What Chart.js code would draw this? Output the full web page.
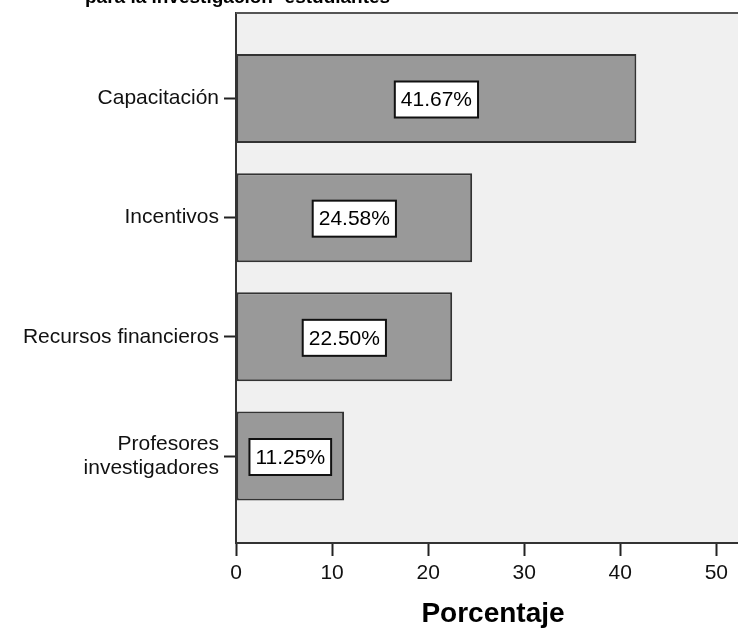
<!DOCTYPE html>
<html>
<head>
<meta charset="utf-8">
<script src="https://cdn.jsdelivr.net/npm/chart.js@4/dist/chart.umd.min.js"></script>
<style>
  html, body { margin: 0; padding: 0; background: #fff; overflow: hidden; }
  #wrap { position: relative; width: 750px; height: 628px; }
  #title {
    position: absolute; left: 85px; top: -14px;
    font: bold 19px "Liberation Sans", Arial, sans-serif; color: #000;
    white-space: nowrap;
  }
</style>
</head>
<body>
<div id="wrap">
  <canvas id="chart"></canvas>
  <div id="title">para la investigación- estudiantes</div>
</div>
<script>
// data
const categories = ["Capacitación", "Incentivos", "Recursos financieros", "Profesores\ninvestigadores"];
const positions = [0, 1, 2, 3];
const percents = [41.67, 24.58, 22.50, 11.25];
const xTicks = [0, 10, 20, 30, 40, 50];

const font = "'Liberation Sans', Arial, sans-serif";

// grey plot background + top frame line
const frame = {
  id: "frame",
  beforeDraw(chart) {
    const { ctx, chartArea: a } = chart;
    ctx.save();
    ctx.fillStyle = "#f0f0f0";
    ctx.fillRect(a.left, a.top, a.right - a.left, a.bottom - a.top);
    ctx.restore();
  },
  afterDraw(chart) {
    const { ctx, chartArea: a } = chart;
    ctx.save();
    ctx.strokeStyle = "#555";
    ctx.lineWidth = 2;
    ctx.beginPath();
    ctx.moveTo(a.left, a.top);
    ctx.lineTo(a.right, a.top);
    ctx.stroke();
    ctx.restore();
  },
};

// boxed value labels centred on each bar
const valueBoxes = {
  id: "valueBoxes",
  afterDatasetsDraw(chart) {
    const { ctx } = chart;
    const meta = chart.getDatasetMeta(0);
    ctx.save();
    ctx.font = "21px " + font;
    ctx.textAlign = "center";
    ctx.textBaseline = "middle";
    meta.data.forEach((bar, i) => {
      const txt = percents[i].toFixed(2) + "%";
      const w = ctx.measureText(txt).width + 12;
      const h = 36;
      const cx = (bar.base + bar.x) / 2;
      const cy = bar.y + 1;
      ctx.fillStyle = "#fff";
      ctx.fillRect(cx - w / 2, cy - h / 2, w, h);
      ctx.strokeStyle = "#111";
      ctx.lineWidth = 2;
      ctx.strokeRect(cx - w / 2, cy - h / 2, w, h);
      ctx.fillStyle = "#000";
      ctx.fillText(txt, cx, cy + 1);
    });
    ctx.restore();
  },
};

new Chart(document.getElementById("chart"), {
  type: "bar",
  data: {
    datasets: [
      {
        data: percents.map((v, i) => ({ x: v, y: positions[i] })),
        backgroundColor: "#999999",
        borderColor: "#333333",
        borderWidth: 2,
        borderSkipped: false,
        barPercentage: 0.747,
        categoryPercentage: 1,
      },
    ],
  },
  options: {
    indexAxis: "y",
    responsive: true,
    maintainAspectRatio: false,
    animation: false,
    layout: { padding: { top: 13, left: 0, right: 0, bottom: 0 } },
    plugins: { legend: { display: false }, tooltip: { enabled: false } },
    scales: {
      x: {
        type: "linear",
        min: 0,
        max: 53.5,
        afterBuildTicks: (s) => { s.ticks = xTicks.map((v) => ({ value: v })); },
        afterFit: (s) => { s.height = 85; s.paddingLeft = 0; s.paddingRight = 0; },
        grid: { drawOnChartArea: false, tickLength: 13, tickWidth: 2, tickColor: "#222" },
        border: { color: "#333", width: 2 },
        ticks: { color: "#111", font: { family: font, size: 21 }, padding: 5, maxRotation: 0 },
        title: {
          display: true,
          text: "Porcentaje",
          color: "#000",
          font: { family: font, size: 28, weight: "bold", lineHeight: 1 },
          padding: { top: 0, bottom: 0 },
        },
      },
      y: {
        type: "linear",
        reverse: true,
        offset: false,
        min: -0.7175,
        max: 3.73,
        afterBuildTicks: (s) => { s.ticks = positions.map((v) => ({ value: v })); },
        afterFit: (s) => { s.width = 236; s.paddingTop = 0; s.paddingBottom = 0; },
        grid: { offset: false, drawOnChartArea: false, tickLength: 12, tickWidth: 2, tickColor: "#222" },
        border: { color: "#333", width: 2 },
        ticks: {
          autoSkip: false,
          color: "#111",
          padding: 5,
          font: { family: font, size: 21, lineHeight: 1.15 },
          callback: (v) => categories[v].split("\n"),
        },
      },
    },
  },
  plugins: [frame, valueBoxes],
});
</script>
</body>
</html>
